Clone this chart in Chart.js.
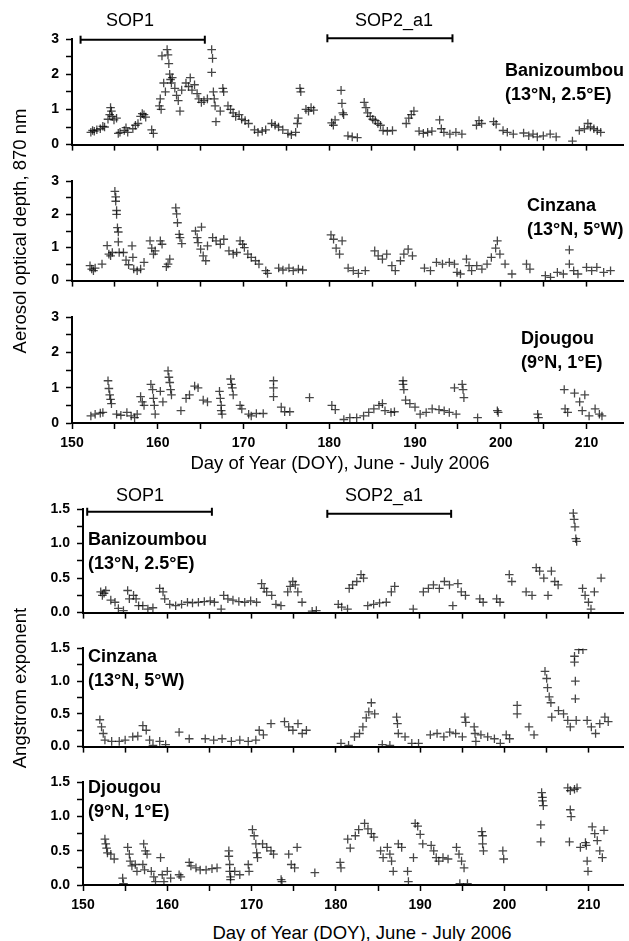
<!DOCTYPE html>
<html>
<head>
<meta charset="utf-8">
<script src="https://cdn.jsdelivr.net/npm/chart.js@4.4.1/dist/chart.umd.min.js"></script>
<style>
body{margin:0;background:#fff;width:629px;height:941px;position:relative;overflow:hidden;font-family:"Liberation Sans",Arial,sans-serif;color:#000}
canvas{position:absolute;left:0}
.t{position:absolute;white-space:nowrap;transform:translate(-50%,-50%);font-size:18px}
.est{position:absolute;white-space:nowrap;font-size:18px;font-weight:bold;line-height:24px}
.rot{transform:translate(-50%,-50%) rotate(-90deg)}
</style>
</head>
<body>
<canvas id="p1" width="629" height="160" style="top:0px"></canvas>
<canvas id="p2" width="629" height="130" style="top:166px"></canvas>
<canvas id="p3" width="629" height="151" style="top:302px"></canvas>
<canvas id="p4" width="629" height="159" style="top:469px"></canvas>
<canvas id="p5" width="629" height="129" style="top:633px"></canvas>
<canvas id="p6" width="629" height="148" style="top:767px"></canvas>

<div class="t" style="left:130px;top:20px">SOP1</div>
<div class="t" style="left:394px;top:20px">SOP2_a1</div>
<div class="t" style="left:140px;top:495px">SOP1</div>
<div class="t" style="left:384px;top:495px">SOP2_a1</div>

<div class="est" style="left:505px;top:58px">Banizoumbou<br>(13°N, 2.5°E)</div>
<div class="est" style="left:527px;top:193px">Cinzana<br>(13°N, 5°W)</div>
<div class="est" style="left:521px;top:326px">Djougou<br>(9°N, 1°E)</div>
<div class="est" style="left:88px;top:527px">Banizoumbou<br>(13°N, 2.5°E)</div>
<div class="est" style="left:88px;top:644px">Cinzana<br>(13°N, 5°W)</div>
<div class="est" style="left:88px;top:775px">Djougou<br>(9°N, 1°E)</div>

<div class="t" style="left:340px;top:463px;font-size:18.5px">Day of Year (DOY), June - July 2006</div>
<div class="t" style="left:362px;top:933px;font-size:18.5px">Day of Year (DOY), June - July 2006</div>
<div class="t rot" style="left:20px;top:231px;font-size:18.5px">Aerosol optical depth, 870 nm</div>
<div class="t rot" style="left:20px;top:688px;font-size:18.5px">Angstrom exponent</div>

<script>
// Banizoumbou, AOD 870 nm
let banizAodDia = [152.2,152.4,152.6,152.9,153.3,153.6,153.8,154.2,154.4,154.5,154.6,154.7,154.9,155.2,155.4,155.6,156.1,156.3,156.5,157.1,157.4,157.7,158.0,158.2,158.4,158.6,159.3,159.5,160.2,160.3,160.4,160.5,160.7,160.9,161.1,161.2,161.3,161.4,161.5,161.6,161.7,162.0,162.2,162.4,162.6,162.8,163.3,163.6,163.8,164.0,164.3,164.6,164.8,165.1,165.4,165.8,166.3,166.4,166.3,166.5,166.6,166.7,166.8,167.3,167.6,167.7,168.2,168.5,168.8,169.1,169.5,169.8,170.2,170.6,171.3,171.7,172.2,172.6,173.3,173.7,174.1,174.6,175.2,175.6,176.1,176.3,176.4,176.6,176.7,177.3,177.6,177.9,178.2,
  180.3,180.5,180.7,181.4,181.5,181.6,181.7,182.2,182.7,183.3,184.1,184.3,184.5,184.8,185.1,185.4,185.7,186.0,186.3,186.8,187.4,189.0,189.3,189.6,189.9,190.5,191.0,191.5,192.0,192.9,193.1,193.4,194.1,194.8,195.5,197.2,197.5,197.8,199.2,199.5,200.3,200.8,201.5,202.7,203.3,203.8,204.3,205.0,205.8,206.5,208.4,209.2,209.8,210.2,210.5,210.9,211.3,211.7];
let banizAodVal = [0.35,0.4,0.38,0.42,0.45,0.52,0.5,0.72,0.85,1.05,0.95,0.8,0.7,0.75,0.32,0.35,0.4,0.48,0.35,0.45,0.55,0.6,0.8,0.88,0.85,0.78,0.42,0.32,1.1,1.3,1.0,2.52,1.75,1.5,2.7,2.55,2.3,2.0,1.85,1.75,1.9,1.6,1.4,1.25,0.95,1.55,1.75,1.65,1.9,1.55,1.7,1.45,1.3,1.2,1.25,1.3,2.7,2.45,2.05,1.5,1.3,1.1,0.65,0.95,1.6,1.5,1.1,1.0,0.9,0.8,0.85,0.72,0.68,0.6,0.42,0.35,0.38,0.42,0.6,0.55,0.5,0.42,0.32,0.28,0.35,0.6,0.75,1.6,1.5,1.0,0.95,1.05,0.98,
  0.62,0.55,0.7,1.54,1.17,0.9,0.85,0.25,0.22,0.2,1.2,1.05,0.9,0.8,0.72,0.68,0.6,0.55,0.4,0.38,0.4,0.6,0.75,0.85,0.95,0.38,0.32,0.35,0.38,0.7,0.45,0.35,0.3,0.35,0.3,0.55,0.68,0.6,0.65,0.58,0.4,0.35,0.3,0.33,0.25,0.3,0.22,0.25,0.3,0.22,0.1,0.4,0.45,0.6,0.5,0.45,0.4,0.35];

// Cinzana, AOD 870 nm
let cinzAodDia = [152.1,152.3,152.5,152.7,153.5,154.1,154.3,154.5,154.7,155.0,155.1,155.1,155.2,155.2,155.3,155.4,155.4,155.5,156.0,156.3,156.6,157.0,157.1,157.2,157.6,158.0,158.4,159.1,159.3,159.5,159.7,160.3,160.5,161.0,161.2,161.4,162.1,162.2,162.3,162.5,162.6,162.8,164.4,164.6,164.7,165.1,165.0,165.3,165.6,165.8,166.4,166.8,167.3,167.7,168.3,168.8,169.2,169.6,169.9,170.1,170.5,170.9,171.4,171.8,172.6,172.8,174.1,174.6,175.3,175.8,176.4,176.9,
  180.2,180.5,180.8,181.2,181.5,182.2,182.8,183.4,184.2,185.3,185.7,186.2,186.7,187.3,187.7,188.3,188.7,189.2,189.7,191.1,191.8,192.5,193.2,194.0,194.6,194.9,195.3,196.0,196.3,196.6,197.2,197.8,198.4,198.9,199.4,199.6,199.9,200.5,201.3,203.0,203.4,205.2,205.8,206.6,207.3,208.0,208.0,208.5,209.0,210.0,210.6,211.2,212.0,212.8];
let cinzAodVal = [0.45,0.35,0.3,0.38,0.5,1.06,0.8,0.75,0.85,2.7,2.53,2.4,2.12,2.0,1.6,1.47,1.17,0.85,0.85,0.62,0.48,1.05,0.7,0.35,0.3,0.35,0.55,1.2,0.98,0.8,0.9,1.2,1.1,0.42,0.5,0.65,2.2,2.02,1.75,1.4,1.3,1.12,1.5,1.3,1.15,1.62,0.95,0.75,0.6,1.05,1.3,1.2,1.1,1.25,0.9,0.8,0.85,1.2,1.1,1.0,0.8,0.7,0.6,0.5,0.3,0.22,0.38,0.32,0.38,0.3,0.35,0.32,
  1.38,1.25,0.98,0.8,1.2,0.38,0.3,0.22,0.3,0.9,0.75,0.65,0.8,0.45,0.3,0.6,0.8,0.95,0.75,0.38,0.3,0.55,0.5,0.55,0.5,0.25,0.2,0.65,0.45,0.3,0.45,0.35,0.5,0.7,0.98,1.2,0.8,0.5,0.2,0.5,0.35,0.15,0.1,0.25,0.2,0.93,0.5,0.3,0.2,0.4,0.3,0.4,0.25,0.3];

// Djougou, AOD 870 nm
let djouAodDia = [152.2,152.7,153.3,153.6,154.2,154.3,154.4,154.5,154.6,155.2,155.7,156.4,156.9,157.3,157.6,158.0,158.2,158.4,159.2,159.4,159.5,159.6,159.7,160.3,160.6,161.2,161.3,161.4,161.5,161.6,162.7,163.3,163.7,164.3,164.7,165.3,165.8,167.2,167.3,167.4,167.4,167.5,168.5,168.6,168.7,168.8,169.6,169.8,170.6,170.9,171.5,172.3,173.5,173.5,173.5,174.4,174.8,175.4,177.7,
  180.3,180.7,181.7,182.4,183.2,184.0,184.6,185.2,185.8,186.2,186.5,187.2,187.6,188.6,188.6,188.7,188.9,189.4,190.0,190.6,191.3,192.0,192.8,193.4,194.0,194.8,194.6,195.5,195.6,195.7,197.3,199.6,199.7,204.3,204.4,207.4,207.5,207.8,208.6,209.2,209.8,209.5,210.3,211.0,211.5,211.8];
let djouAodVal = [0.2,0.25,0.28,0.3,1.2,0.98,0.8,0.67,0.55,0.25,0.22,0.3,0.2,0.15,0.25,0.75,0.6,0.5,1.1,0.95,0.7,0.5,0.25,0.9,0.6,1.48,1.3,1.15,0.95,0.8,0.35,0.7,0.8,1.05,1.0,0.65,0.6,0.9,0.7,0.5,0.35,0.25,1.25,1.1,1.0,0.8,0.5,0.4,0.25,0.2,0.27,0.27,1.2,1.0,0.75,0.45,0.32,0.32,0.72,
  0.5,0.38,0.1,0.15,0.15,0.2,0.3,0.4,0.5,0.55,0.35,0.3,0.32,1.2,1.1,0.95,0.65,0.55,0.45,0.25,0.3,0.4,0.38,0.35,0.3,0.25,1.0,1.1,0.95,0.72,0.15,0.35,0.3,0.25,0.15,0.95,0.4,0.3,0.85,0.6,0.8,0.35,0.2,0.4,0.25,0.2];

// Banizoumbou, Angstrom
let banizAlfaDia = [152.1,152.3,152.5,152.7,153.3,153.8,154.2,154.8,155.3,155.5,156.0,156.3,156.6,157.1,157.7,158.3,159.1,159.5,159.7,160.3,161.0,161.7,162.4,163.0,163.7,164.4,165.1,165.6,166.4,166.7,167.2,167.8,168.5,169.2,169.9,170.6,171.2,171.5,171.8,172.4,172.9,173.5,174.3,174.6,174.9,175.2,175.5,176.0,177.2,177.7,
  180.3,180.7,181.4,181.6,182.0,182.5,183.0,183.3,183.8,184.5,185.2,186.0,186.6,187.0,189.2,190.4,191.0,191.6,192.3,192.9,193.5,193.9,194.5,194.9,195.4,197.1,197.5,199.1,199.5,200.6,200.9,202.6,203.3,203.8,204.2,204.7,205.2,205.6,206.0,206.4,208.2,208.3,208.4,208.5,208.6,209.3,209.6,210.0,210.3,210.7,211.5];
let banizAlfaVal = [0.3,0.25,0.28,0.32,0.18,0.15,0.06,0.03,0.32,0.2,0.25,0.2,0.1,0.1,0.05,0.07,0.35,0.3,0.2,0.12,0.1,0.12,0.15,0.14,0.15,0.16,0.17,0.15,0.05,0.25,0.2,0.18,0.16,0.15,0.17,0.15,0.42,0.35,0.3,0.25,0.12,0.1,0.3,0.38,0.45,0.4,0.3,0.15,0.02,0.03,
  0.12,0.08,0.05,0.35,0.4,0.45,0.55,0.5,0.1,0.12,0.14,0.15,0.3,0.38,0.05,0.3,0.35,0.4,0.35,0.45,0.4,0.1,0.42,0.3,0.25,0.2,0.15,0.2,0.15,0.55,0.45,0.3,0.25,0.65,0.6,0.5,0.25,0.6,0.45,0.4,1.44,1.35,1.24,1.07,1.03,0.35,0.25,0.15,0.05,0.3,0.5];

// Cinzana, Angstrom
let cinzAlfaDia = [152.0,152.2,152.4,152.6,153.4,154.3,155.0,155.9,156.5,157.1,157.5,157.9,158.3,159.1,159.8,161.4,162.6,164.5,165.5,166.5,167.6,168.6,169.6,170.5,170.9,171.4,172.3,173.9,174.4,174.9,175.5,176.0,176.5,
  180.6,181.5,182.2,182.8,183.2,183.6,183.9,184.2,184.6,185.5,186.4,187.2,187.3,187.4,188.2,189.0,189.8,191.2,192.0,192.8,193.5,194.2,195.0,195.3,195.4,196.4,196.5,196.6,197.2,198.0,198.8,199.5,200.2,200.6,201.5,201.5,202.9,203.5,204.8,205.0,205.1,205.3,205.5,205.6,206.4,207.0,207.5,207.8,208.3,208.3,208.4,208.4,208.5,208.8,209.3,209.8,210.3,210.8,211.3,211.9,212.3];
let cinzAlfaVal = [0.41,0.3,0.2,0.1,0.08,0.08,0.1,0.15,0.16,0.32,0.25,0.1,0.02,0.08,0.03,0.22,0.12,0.12,0.1,0.12,0.08,0.1,0.08,0.1,0.25,0.18,0.35,0.38,0.3,0.25,0.35,0.2,0.25,
  0.05,0.02,0.15,0.2,0.3,0.44,0.53,0.67,0.5,0.03,0.02,0.45,0.35,0.2,0.15,0.05,0.05,0.18,0.2,0.15,0.22,0.2,0.15,0.45,0.37,0.3,0.2,0.08,0.18,0.15,0.12,0.05,0.18,0.12,0.63,0.5,0.3,0.18,1.15,1.04,0.9,0.76,0.67,0.45,0.55,0.5,0.4,0.3,1.38,1.29,1.0,0.73,0.4,1.48,1.48,0.4,0.3,0.2,0.35,0.45,0.38];

// Djougou, Angstrom
let djouAlfaDia = [152.6,152.7,152.8,152.9,153.3,153.7,154.7,154.8,155.3,155.5,155.6,155.8,156.2,156.4,157.2,157.4,157.6,157.1,157.3,158.1,158.4,158.6,159.2,159.4,159.6,160.0,160.4,161.4,161.6,162.6,162.8,163.4,163.9,164.6,165.3,165.9,167.3,167.3,167.4,167.4,167.5,167.5,168.0,168.6,169.6,169.7,170.1,170.3,170.5,170.6,170.7,171.3,171.8,172.3,172.6,173.5,173.6,174.4,174.7,175.1,175.4,177.5,
  180.5,180.6,181.4,181.7,182.3,182.7,183.4,183.8,184.2,184.5,185.3,185.6,186.1,186.4,186.6,186.8,187.4,187.8,188.5,188.6,189.2,189.4,189.7,190.0,190.3,191.3,191.6,191.9,192.2,192.7,193.3,194.3,194.6,194.9,195.2,194.7,195.6,197.3,197.4,197.4,197.5,199.8,199.9,204.4,204.5,204.5,204.6,204.3,204.3,207.5,207.8,208.3,208.6,207.8,207.9,207.7,209.0,209.6,209.7,209.8,209.9,210.4,210.7,211.0,211.3,211.6,211.8];
let djouAlfaVal = [0.67,0.6,0.54,0.47,0.45,0.38,0.1,0.02,0.55,0.45,0.35,0.28,0.3,0.2,0.6,0.5,0.45,0.3,0.22,0.2,0.12,0.05,0.4,0.15,0.05,0.2,0.1,0.15,0.12,0.33,0.28,0.25,0.22,0.22,0.24,0.25,0.5,0.42,0.3,0.2,0.12,0.08,0.2,0.15,0.3,0.2,0.81,0.72,0.6,0.47,0.4,0.6,0.55,0.5,0.45,0.08,0.05,0.45,0.3,0.25,0.55,0.18,
  0.33,0.25,0.67,0.54,0.72,0.81,0.9,0.82,0.75,0.7,0.5,0.4,0.55,0.45,0.35,0.2,0.6,0.55,0.2,0.05,0.4,0.9,0.86,0.74,0.6,0.58,0.5,0.4,0.35,0.4,0.38,0.55,0.45,0.35,0.25,0.02,0.02,0.78,0.72,0.6,0.5,0.5,0.38,1.35,1.28,1.23,1.16,0.88,0.63,1.42,1.38,1.4,1.42,1.1,1.0,0.63,0.55,0.62,0.58,0.35,0.2,0.85,0.75,0.65,0.5,0.4,0.8];

// periodes SOP (debut, fin)
let sopAodDebut = [151, 179.8];
let sopAodFin = [165.5, 194.4];
let sopAlfaDebut = [150.5, 179.0];
let sopAlfaFin = [165.3, 193.7];

let colorCruz = 'rgba(0,0,0,0.72)';
let fuente = '"Liberation Sans", Arial, sans-serif';

let puntos = (dias, valores) => dias.map((d, i) => ({x: d, y: valores[i]}));

let barrasSop = (debut, fin, y) => debut.map((d, i) => ({
    type: 'line',
    data: [{x: d, y: y[i]}, {x: fin[i], y: y[i]}],
    showLine: true,
    borderColor: '#000',
    borderWidth: 2,
    pointStyle: 'line',
    rotation: 90,
    pointRadius: 4,
    pointBorderColor: '#000',
    pointBorderWidth: 2,
    clip: false
}));

let crearPanel = (id, dias, valores, cfg) => {
    let datasets = [{
        data: puntos(dias, valores),
        pointStyle: 'cross',
        pointRadius: 4.3,
        pointBorderWidth: 1.3,
        pointBorderColor: colorCruz,
        backgroundColor: colorCruz
    }];
    if (cfg.extra) datasets = datasets.concat(cfg.extra);

    new Chart(document.getElementById(id), {
        type: 'scatter',
        data: {datasets: datasets},
        options: {
            responsive: false,
            animation: false,
            events: [],
            layout: {padding: {top: cfg.padTop, left: 0, right: 0, bottom: 0}},
            plugins: {legend: {display: false}, tooltip: {enabled: false}},
            scales: {
                x: {
                    type: 'linear',
                    min: 150,
                    max: cfg.xMax,
                    afterFit: s => { s.height = cfg.altoX; },
                    border: {color: '#000', width: 2},
                    grid: {drawOnChartArea: false, color: '#000', tickLength: 6, tickWidth: 1.5},
                    ticks: {
                        stepSize: 5,
                        includeBounds: false,
                        autoSkip: false,
                        maxRotation: 0,
                        padding: 6,
                        color: '#000',
                        font: {family: fuente, size: 14, weight: 'bold'},
                        callback: v => (cfg.etiquetasX && v % 10 === 0) ? String(v) : ''
                    }
                },
                y: {
                    min: 0,
                    max: cfg.yMax,
                    afterFit: s => { s.width = cfg.gauche; },
                    border: {color: '#000', width: 2},
                    grid: {drawOnChartArea: false, color: '#000', tickLength: 6, tickWidth: 1.5},
                    ticks: {
                        stepSize: cfg.pasY,
                        autoSkip: false,
                        padding: 7,
                        color: '#000',
                        font: {family: fuente, size: 14, weight: 'bold'},
                        callback: cfg.etiquetaY
                    }
                }
            }
        }
    });
}

let etiquetaAod = v => Math.abs(v - Math.round(v)) < 1e-6 ? String(Math.round(v)) : '';
let etiquetaAlfa = v => Math.abs(v * 2 - Math.round(v * 2)) < 1e-6 ? v.toFixed(1) : '';

let hautAod = {gauche: 72, xMax: 214.3, yMax: 3, pasY: 0.5, etiquetaY: etiquetaAod};
let hautAlfa = {gauche: 83, xMax: 214.1, yMax: 1.5, pasY: 0.25, etiquetaY: etiquetaAlfa};

crearPanel('p1', banizAodDia, banizAodVal, Object.assign({}, hautAod, {padTop: 39, altoX: 10, etiquetasX: false,
    extra: barrasSop(sopAodDebut, sopAodFin, [2.98, 3.02])}));
crearPanel('p2', cinzAodDia, cinzAodVal, Object.assign({}, hautAod, {padTop: 10, altoX: 10, etiquetasX: false}));
crearPanel('p3', djouAodDia, djouAodVal, Object.assign({}, hautAod, {padTop: 10, altoX: 30, etiquetasX: true}));
crearPanel('p4', banizAlfaDia, banizAlfaVal, Object.assign({}, hautAlfa, {padTop: 40, altoX: 10, etiquetasX: false,
    extra: barrasSop(sopAlfaDebut, sopAlfaFin, [1.46, 1.43])}));
crearPanel('p5', cinzAlfaDia, cinzAlfaVal, Object.assign({}, hautAlfa, {padTop: 10, altoX: 10, etiquetasX: false}));
crearPanel('p6', djouAlfaDia, djouAlfaVal, Object.assign({}, hautAlfa, {padTop: 10, altoX: 30, etiquetasX: true}));
</script>
</body>
</html>
